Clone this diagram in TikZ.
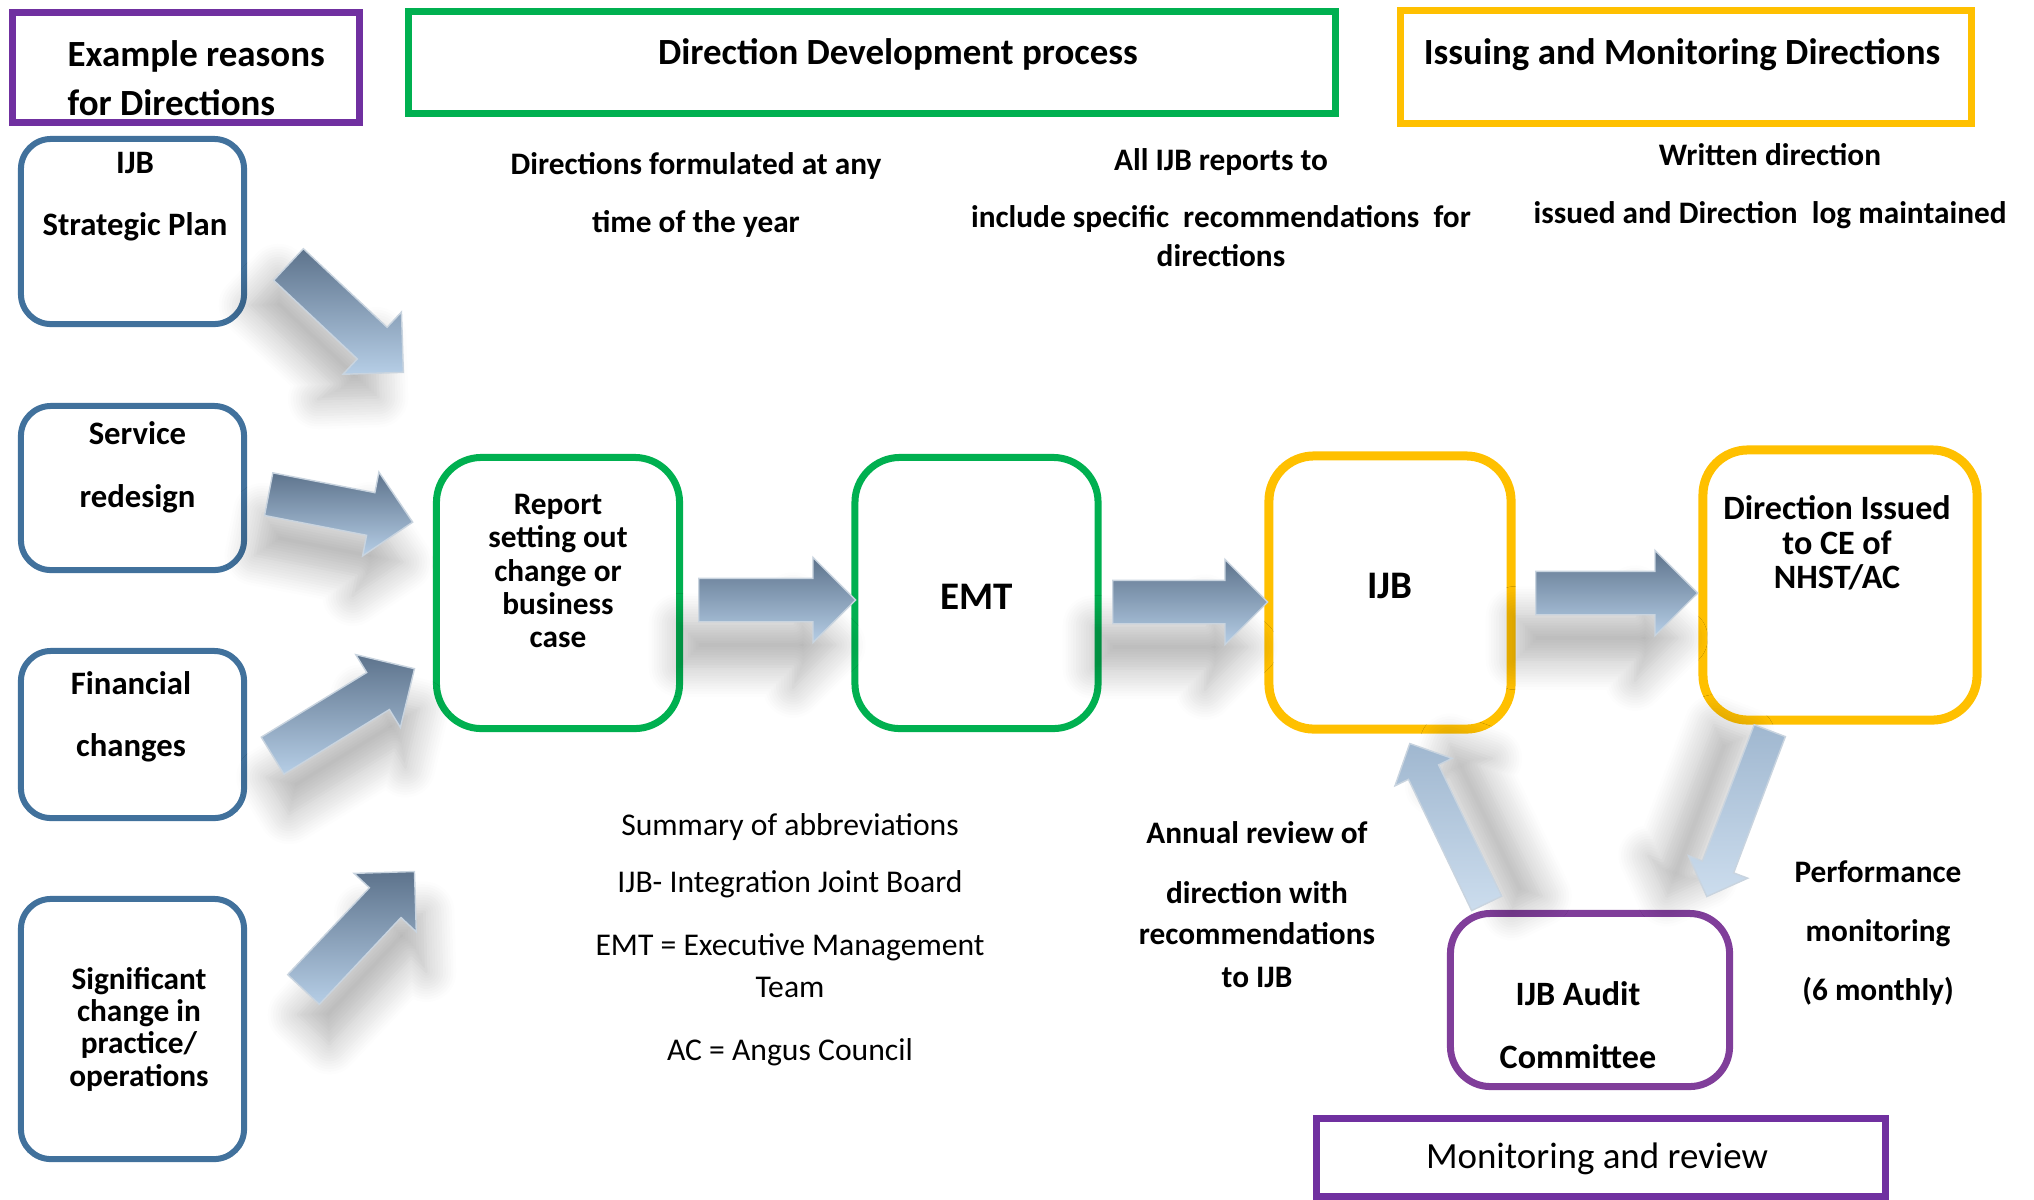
\documentclass[tikz,border=0pt]{standalone}
\usepackage{fontspec}
\setmainfont{Carlito}
\usetikzlibrary{calc,shapes.arrows,shadows.blur}
\definecolor{dirpurple}{HTML}{7030A0}
\definecolor{auditpurple}{HTML}{803E9A}
\definecolor{dirgreen}{HTML}{00B050}
\definecolor{dirgold}{HTML}{FFC000}
\definecolor{reasonblue}{HTML}{41719C}
\definecolor{arrowdark}{HTML}{5D738C}
\definecolor{arrowlight}{HTML}{B6CEE6}
\definecolor{arrowedge}{HTML}{C9D4DF}

% block arrow from tail to tip: [options]{name}{tail}{tip}
\newcommand{\blockarrow}[4][]{%
  \path let \p1=($(#4)-(#3)$), \n1={veclen(\x1,\y1)}, \n2={atan2(\y1,\x1)} in
    node[barrow,#1,minimum height=\n1,rotate=\n2,anchor=tail] (#2) at (#3) {};}

\begin{document}
\begin{tikzpicture}[x=0.01cm,y=-0.01cm,
    headfont/.style={font=\bfseries\fontsize{10.5}{13.9}\selectfont},
    txt/.style={font=\bfseries\fontsize{8.9}{16.5}\selectfont,align=center,inner sep=0pt},
    headbox/.style={draw=#1,line width=0.07cm},
    reason/.style={draw=reasonblue,line width=0.06cm,rounded corners=0.3cm,minimum width=2.23cm},
    devbox/.style={draw=dirgreen,line width=0.07cm,rounded corners=0.45cm,minimum width=2.43cm,minimum height=2.71cm},
    issuebox/.style={draw=dirgold,line width=0.09cm,rounded corners=0.45cm},
    barrow/.style={single arrow,single arrow head extend=0.21cm,single arrow head indent=0pt,
      minimum width=0pt,inner xsep=0pt,inner ysep=0.21cm,
      top color=arrowdark,bottom color=arrowlight,draw=arrowedge,line width=0.4pt},
    thinarrow/.style={single arrow head extend=0.15cm,inner ysep=0.16cm,top color=arrowlight!75!arrowdark,bottom color=arrowlight!70!white},
    shade/.style args={#1,#2}{blur shadow={shadow xshift=#1,shadow yshift=#2,shadow blur radius=0.3cm,shadow blur steps=12,shadow opacity=30}}]
  \useasboundingbox (0,0) rectangle (2034,1199);

  % headings
  \node[headbox=dirpurple,minimum width=3.46cm,minimum height=1.09cm] (reasonhead) at (186,67.5) {};
  \node[txt,headfont,align=left,anchor=west] (reasontxt) at (67,78) {Example reasons\\for Directions};
  \node[headbox=dirgreen,minimum width=9.26cm,minimum height=1.01cm] (devhead) at (872,62.5) {};
  \node[txt,headfont] (devtxt) at (898,54) {Direction Development process};
  \node[headbox=dirgold,minimum width=5.7cm,minimum height=1.12cm] (issuehead) at (1686,67) {};
  \node[txt,headfont] (issuetxt) at (1682,55) {Issuing and Monitoring Directions};
  \node[headbox=dirpurple,minimum width=5.68cm,minimum height=0.78cm] (monhead) at (1601,1157) {};
  \node[txt,font=\fontsize{10.5}{13.9}\selectfont] (montxt) at (1597,1159) {Monitoring and review};

  % reasons
  \node[reason,minimum height=1.85cm] (plan) at (132.5,231.5) {};
  \node[txt,font=\bfseries\fontsize{9.3}{17.6}\selectfont] (plantxt) at (135,197) {IJB\\Strategic Plan};
  \node[reason,minimum height=1.64cm] (service) at (132.5,488) {};
  \node[txt,font=\bfseries\fontsize{9.3}{17.9}\selectfont] (servicetxt) at (137.5,467) {Service\\redesign};
  \node[reason,minimum height=1.67cm] (finance) at (132.5,734.5) {};
  \node[txt,font=\bfseries\fontsize{9.3}{17.6}\selectfont] (financetxt) at (131,717) {Financial\\changes};
  \node[reason,minimum height=2.6cm] (change) at (132.5,1029) {};
  \node[txt,font=\bfseries\fontsize{8.9}{9.2}\selectfont] (changetxt) at (139,1029) {Significant\\change in\\practice/\\operations};

  % process
  \node[devbox] (report) at (558,593) {};
  \node[txt,font=\bfseries\fontsize{8.9}{9.4}\selectfont] (reporttxt) at (558,571) {Report\\setting out\\change or\\business\\case};
  \node[devbox] (emt) at (976.5,593) {};
  \node[txt,font=\bfseries\fontsize{11.1}{13}\selectfont] (emttxt) at (977,597) {EMT};
  \node[issuebox,minimum width=2.42cm,minimum height=2.73cm] (ijb) at (1390,592.5) {};
  \node[txt,font=\bfseries\fontsize{11.1}{13}\selectfont] (ijbtxt) at (1390,586) {IJB};
  \node[issuebox,minimum width=2.74cm,minimum height=2.7cm] (issued) at (1840,585) {};
  \node[txt,font=\bfseries\fontsize{9.7}{9.8}\selectfont] (issuedtxt) at (1837,543) {Direction Issued\\to CE of\\NHST/AC};
  \node[draw=auditpurple,line width=0.07cm,rounded corners=0.4cm,minimum width=2.79cm,minimum height=1.73cm] (audit) at (1590,1000) {};
  \node[txt,font=\bfseries\fontsize{9.7}{17.9}\selectfont] (audittxt) at (1578,1025) {IJB Audit\\Committee};

  % notes
  \node[txt] (anytime) at (696,195) {Directions formulated at any\\time of the year};
  \node[txt,font=\bfseries\fontsize{8.9}{11.1}\selectfont] (allreports) at (1221,208) {All IJB reports to\\[5.1pt]include specific\ \ recommendations\ \ for\\directions};
  \node[txt] (written) at (1770,186) {Written direction\\issued and Direction\ \ log maintained};
  \node[txt,font=\bfseries\fontsize{8.9}{11.4}\selectfont] (annual) at (1257,905) {Annual review of\\[5.7pt]direction with\\recommendations\\[1.1pt]to IJB};
  \node[txt,font=\bfseries\fontsize{8.9}{16.8}\selectfont] (perf) at (1878,933) {Performance\\monitoring\\(6 monthly)};
  \node[txt,font=\fontsize{9}{12}\selectfont] (abbr) at (790,940) {Summary of abbreviations\\[4.2pt]IJB- Integration Joint Board\\[5.9pt]EMT = Executive Management\\Team\\[5.9pt]AC = Angus Council};

  % arrow ends
  \coordinate (planout) at (288,264);   \coordinate (reportin1) at (403,372);
  \coordinate (serviceout) at (268,494); \coordinate (reportin2) at (412,522);
  \coordinate (financeout) at (272,756); \coordinate (reportin3) at (414,669);
  \coordinate (changeout) at (303,990); \coordinate (reportin4) at (414,872);
  \coordinate (reportout) at (698,600); \coordinate (emtin) at (855,600);
  \coordinate (emtout) at (1112,602);   \coordinate (ijbin) at (1267,602);
  \coordinate (ijbout) at (1535,593);   \coordinate (issuedin) at (1697,593);
  \coordinate (auditout) at (1487,904); \coordinate (ijbback) at (1410,744);
  \coordinate (issuedout) at (1770,730); \coordinate (auditin) at (1707,896);

  \blockarrow[shade={-0.25cm,-0.25cm}]{planarr}{planout}{reportin1}
  \blockarrow[shade={-0.1cm,-0.4cm}]{servicearr}{serviceout}{reportin2}
  \blockarrow[shade={0.05cm,-0.4cm}]{financearr}{financeout}{reportin3}
  \blockarrow[shade={0.1cm,-0.4cm}]{changearr}{changeout}{reportin4}
  \blockarrow[shade={-0.2cm,-0.45cm}]{emtarr}{reportout}{emtin}
  \blockarrow[shade={-0.2cm,-0.45cm}]{ijbarr}{emtout}{ijbin}
  \blockarrow[shade={-0.2cm,-0.45cm}]{issuedarr}{ijbout}{issuedin}
  \blockarrow[thinarrow,shade={0.4cm,0cm}]{reviewarr}{auditout}{ijbback}
  \blockarrow[thinarrow,shade={-0.4cm,0cm}]{monitorarr}{issuedout}{auditin}
\end{tikzpicture}
\end{document}
